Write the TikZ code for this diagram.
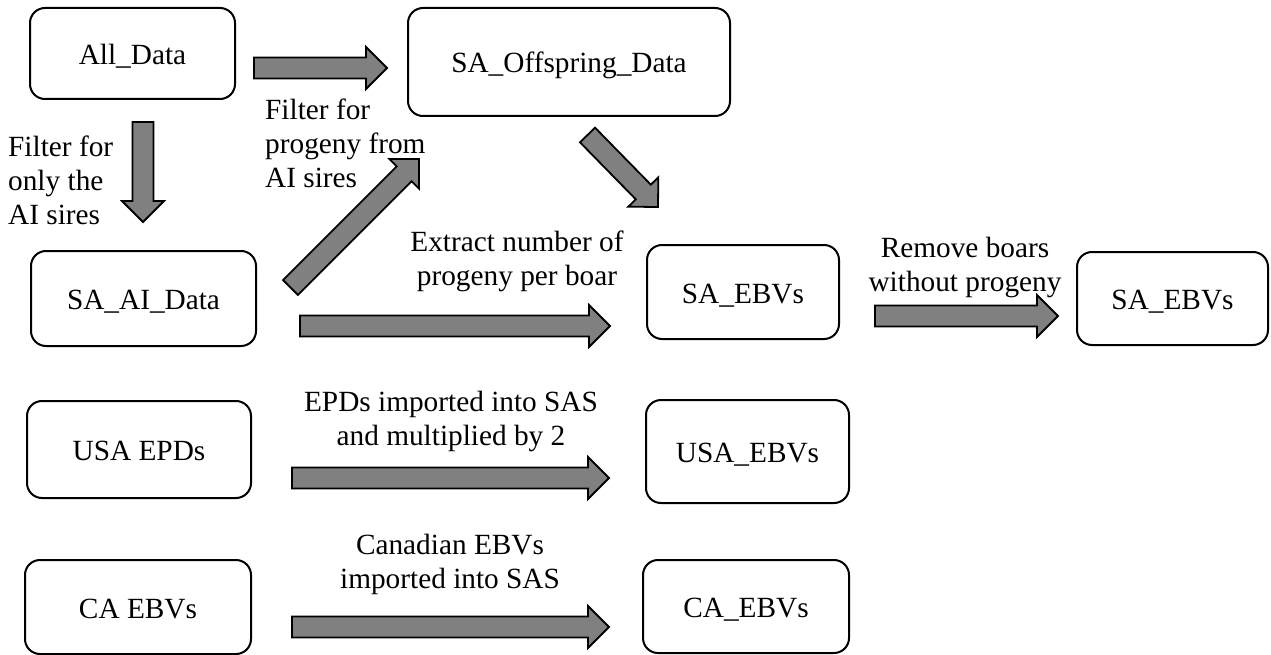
\documentclass[tikz,border=0pt]{standalone}
\usepackage{fontspec}
\setmainfont{Liberation Serif}
\usetikzlibrary{calc}

% fat grey arrow from #1 to #2 (shaft 21pt, head 42pt wide, 21pt long)
\newcommand{\blockarrow}[2]{%
 \draw[blockarr] ($(#1)!10.5pt!90:(#2)$) -- ($(#2)!21pt!(#1)!10.5pt!-90:(#1)$)
   -- ($(#2)!21pt!(#1)!21pt!-90:(#1)$) -- (#2)
   -- ($(#2)!21pt!(#1)!21pt!90:(#1)$) -- ($(#2)!21pt!(#1)!10.5pt!90:(#1)$)
   -- ($(#1)!10.5pt!-90:(#2)$) -- cycle;}

\tikzset{
 box/.style={draw, line width=2pt, rounded corners=15pt, inner sep=0pt, text height=22pt, text depth=0pt},
 blockarr/.style={draw=black, fill=gray, line width=1.8pt, line join=miter},
 lbl/.style={inner sep=0pt},
 every node/.style={font=\fontsize{29.3}{34}\selectfont}
}

\begin{document}
\begin{tikzpicture}[x=1pt, y=-1pt]

 \useasboundingbox (0,0) rectangle (1271,655);

 % data sets
 \node[box, minimum width=205, minimum height=91] (all) at (132.5,53.5) {All\_Data};
 \node[box, minimum width=322, minimum height=108] (offspring) at (569,62) {SA\_Offspring\_Data};
 \node[box, minimum width=225, minimum height=95] (saai) at (143.5,298.5) {SA\_AI\_Data};
 \node[box, minimum width=192, minimum height=94] (saebv) at (743,292) {SA\_EBVs};
 \node[box, minimum width=191, minimum height=93] (saebvfin) at (1172.5,298.5) {SA\_EBVs};
 \node[box, minimum width=224, minimum height=97] (usaepd) at (139,449.5) {USA EPDs};
 \node[box, minimum width=203, minimum height=103] (usaebv) at (747.5,451.5) {USA\_EBVs};
 \node[box, minimum width=226, minimum height=94] (caebv) at (138,607) {CA EBVs};
 \node[box, minimum width=206, minimum height=93] (caebvout) at (746,606.5) {CA\_EBVs};

 % arrow ends
 \coordinate (s1) at (254,68);    \coordinate (e1) at (387,68);
 \coordinate (s2) at (143,122);   \coordinate (e2) at (143,222);
 \coordinate (s3) at (290.5,287.5); \coordinate (e3) at (419,159);
 \coordinate (s4) at (587.5,135); \coordinate (e4) at (658,207);
 \coordinate (s5) at (300,326);   \coordinate (e5) at (610,326);
 \coordinate (s6) at (875,316);   \coordinate (e6) at (1058,316);
 \coordinate (s7) at (292,478);   \coordinate (e7) at (609,478);
 \coordinate (s8) at (292,627);   \coordinate (e8) at (609,627);

 \blockarrow{s1}{e1}
 \blockarrow{s2}{e2}
 \blockarrow{s3}{e3}
 \blockarrow{s4}{e4}
 \blockarrow{s5}{e5}
 \blockarrow{s6}{e6}
 \blockarrow{s7}{e7}
 \blockarrow{s8}{e8}

 % step labels
 \node[lbl, anchor=north west, align=left] (filtai) at (8,136) {Filter for\\only the\\AI sires};
 \node[lbl, anchor=north west, align=left] (filtprog) at (265,99) {Filter for\\progeny from\\AI sires};
 \node[lbl, anchor=north, align=center] (extract) at (517,231) {Extract number of\\progeny per boar};
 \node[lbl, anchor=north, align=center] (remove) at (965,237) {Remove boars\\without progeny};
 \node[lbl, anchor=north, align=center] (usaimp) at (451,391) {EPDs imported into SAS\\and multiplied by 2};
 \node[lbl, anchor=north, align=center] (caimp) at (450,534) {Canadian EBVs\\imported into SAS};

\end{tikzpicture}
\end{document}
